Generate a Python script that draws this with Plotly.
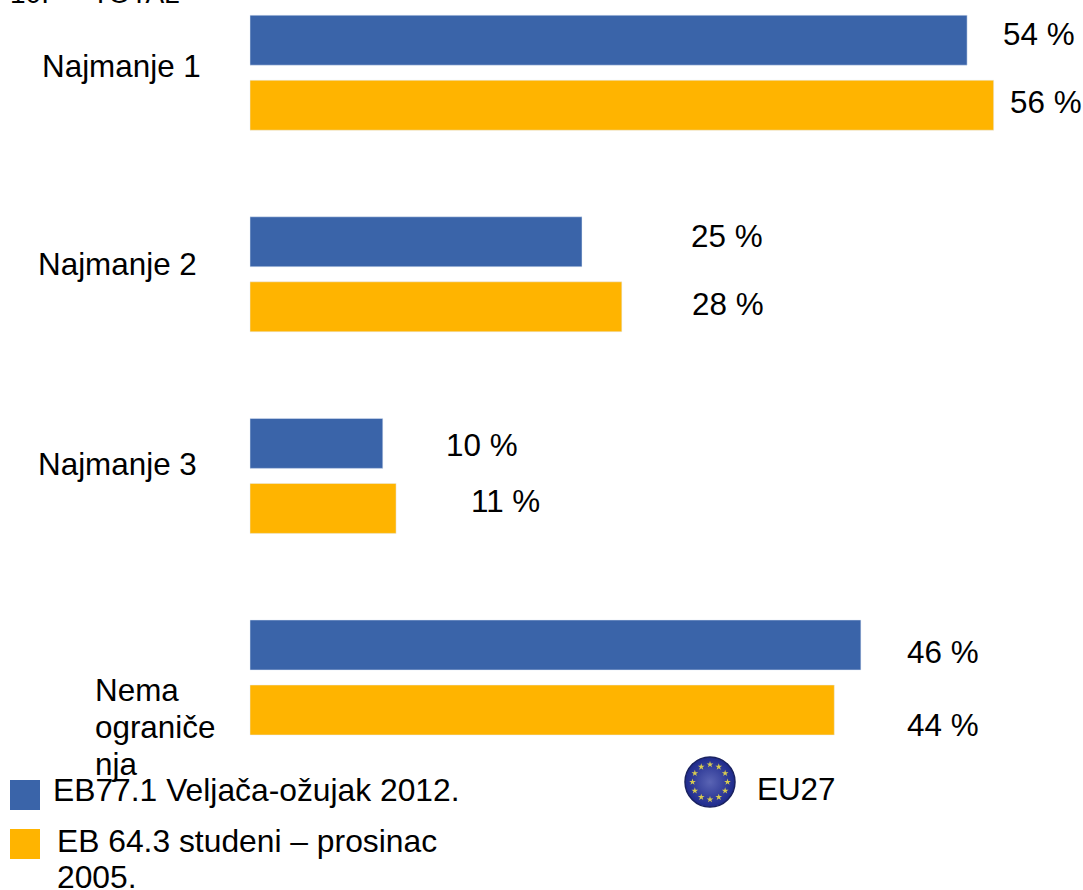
import math
import plotly.graph_objects as go

W, H = 1083, 890
FONT = "Liberation Sans, Arial, sans-serif"
SIZE = 31.4
LEGEND_SIZE = 31.8

categories = ["Najmanje 1", "Najmanje 2", "Najmanje 3", "Nema ograniče nja"]
series_names = ["EB77.1 Veljača-ožujak 2012.", "EB 64.3 studeni – prosinac", "2005."]
values_2012 = [54, 25, 10, 46]
values_2005 = [56, 28, 11, 44]
BLUE, ORANGE = "#3A64A9", "#FFB400"

# pixel placements of free-standing texts (left x, centre y)
label_px = [(40, 67), (36, 265), (36, 464)]
val_px_2012 = [(1001, 34), (689, 237), (444, 445), (905, 652)]
val_px_2005 = [(1008, 103), (690, 304), (469, 501), (905, 725)]

PX_PER_PCT = 13.28
ZERO_X = 250
GROUP0_Y, GROUP_DY = 72.7, 201.6


def px(x):
    return x / W


def py(y):
    return 1 - y / H


fig = go.Figure()
fig.add_bar(y=categories, x=values_2012, name=series_names[0], orientation="h",
            marker=dict(color=BLUE), showlegend=False, hoverinfo="x+y")
fig.add_bar(y=categories, x=values_2005, name=series_names[1] + " " + series_names[2], orientation="h",
            marker=dict(color=ORANGE), showlegend=False, hoverinfo="x+y")

# EU emblem on a pixel-based overlay axis
cx, cy, r_star = 710, 782, 17.5
fig.add_scatter(x=[cx], y=[cy], mode="markers", xaxis="x2", yaxis="y2", showlegend=False,
                hoverinfo="skip",
                marker=dict(size=50, color="#1E2A8C", symbol="circle",
                            gradient=dict(type="radial", color="#5A64B4"),
                            line=dict(width=1.5, color="#1A2260")))
star_angles = [i * 30 for i in range(12)]
fig.add_scatter(x=[cx + r_star * math.cos(math.radians(a)) for a in star_angles],
                y=[cy + r_star * math.sin(math.radians(a)) for a in star_angles],
                mode="markers", xaxis="x2", yaxis="y2", showlegend=False, hoverinfo="skip",
                marker=dict(size=5, color="#D8CC50", symbol="star"))

ann = []


def text(x, y, s, size=SIZE):
    ann.append(dict(x=px(x), y=py(y), xref="paper", yref="paper", text=s, showarrow=False,
                    xanchor="left", yanchor="middle", align="left",
                    font=dict(family=FONT, size=size, color="#000000")))


for (x, y), c in zip(label_px, categories):
    text(x, y, c)
for (x, y), s in zip([(93, 690), (93, 727), (93, 764)], ["Nema", "ograniče", "nja"]):
    text(x, y, s)
for (x, y), v in zip(val_px_2012, values_2012):
    text(x, y, f"{v} %")
for (x, y), v in zip(val_px_2005, values_2005):
    text(x, y, f"{v} %")
text(51, 790, series_names[0], LEGEND_SIZE)
text(55, 841, series_names[1], LEGEND_SIZE)
text(55, 877, series_names[2], LEGEND_SIZE)
text(755, 789, "EU27")
# heading cut off by the top edge of the picture
text(8, -7, "10.", 28)
text(90, -7, "TOTAL", 28)

shapes = [
    dict(type="rect", xref="paper", yref="paper", x0=px(10), x1=px(40), y0=py(780), y1=py(810),
         fillcolor=BLUE, line=dict(width=0)),
    dict(type="rect", xref="paper", yref="paper", x0=px(10), x1=px(40), y0=py(829), y1=py(859),
         fillcolor=ORANGE, line=dict(width=0)),
]

fig.update_layout(
    width=W, height=H, margin=dict(l=0, r=0, t=0, b=0, pad=0, autoexpand=False),
    paper_bgcolor="white", plot_bgcolor="white",
    barmode="group", bargap=0.355, bargroupgap=0.231,
    xaxis=dict(range=[-ZERO_X / PX_PER_PCT, (W - ZERO_X) / PX_PER_PCT], visible=False, domain=[0, 1]),
    yaxis=dict(type="category", categoryarray=categories, categoryorder="array", visible=False,
               range=[(H - GROUP0_Y) / GROUP_DY, -GROUP0_Y / GROUP_DY], domain=[0, 1]),
    xaxis2=dict(range=[0, W], visible=False, overlaying="x", anchor="y2"),
    yaxis2=dict(range=[H, 0], visible=False, overlaying="y", anchor="x2"),
    annotations=ann, shapes=shapes,
)
fig.write_html("out.html", config={"displayModeBar": False},
               post_script="document.body.style.margin='0';document.documentElement.style.overflow='hidden';")
